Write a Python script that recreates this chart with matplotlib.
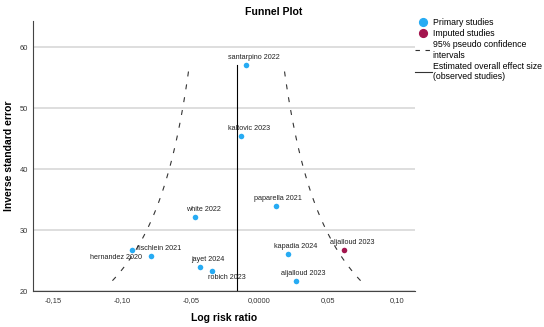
import numpy as np
import matplotlib.pyplot as plt
from matplotlib.lines import Line2D

plt.rcParams['font.family'] = ['Liberation Sans', 'DejaVu Sans']

# primary studies
studies = ['santarpino 2022', 'kaltovic 2023', 'paparella 2021', 'white 2022',
           'fischlein 2021', 'hernandez 2020', 'jayet 2024', 'robich 2023',
           'kapadia 2024', 'aljalloud 2023']
log_rr = [-0.0097, -0.0131, 0.0117, -0.0468, -0.0786, -0.0927, -0.0432, -0.0347,
          0.0207, 0.0267]
inv_se = [57.2, 45.5, 34.0, 32.2, 25.8, 26.7, 23.9, 23.3, 26.1, 21.7]

# imputed studies (trim and fill)
imp_studies = ['aljalloud 2023']
imp_log_rr = [0.0614]
imp_inv_se = [26.7]

overall = -0.0167

# label offsets in pixels (dx, dy) relative to point
offsets = {
    'santarpino 2022': (7.5, 7.3), 'kaltovic 2023': (7.4, 7.6),
    'paparella 2021': (2.4, 7.4), 'white 2022': (7.8, 7.4),
    'fischlein 2021': (7.2, 7.7), 'hernandez 2020': (-16.5, -7),
    'jayet 2024': (7.7, 8), 'robich 2023': (15.1, -7),
    'kapadia 2024': (7.5, 7.3), 'aljalloud 2023': (7.5, 7.4),
}
px = 0.72

blue = '#27ABF3'
red = '#A3154E'

fig = plt.figure(figsize=(5.44, 3.27), dpi=100)
ax = fig.add_axes([0.0613, 0.11, 0.7017, 0.8267])

ax.set_xlim(-0.1646, 0.1133)
ax.set_ylim(20, 64.4)
ax.set_yticks([20, 30, 40, 50, 60])
ax.set_xticks([-0.15, -0.10, -0.05, 0.0, 0.05, 0.10])
ax.set_xticklabels(['-0,15', '-0,10', '-0,05', '0,0000', '0,05', '0,10'])
ax.yaxis.grid(True, color='#D4D4D4', lw=1.1)
ax.set_axisbelow(True)
for s in ['top', 'right']:
    ax.spines[s].set_visible(False)
for s in ['left', 'bottom']:
    ax.spines[s].set_color('#444444')
    ax.spines[s].set_linewidth(0.8)
ax.tick_params(length=0, labelsize=5.4, colors='#333333', pad=4)

# pseudo confidence limits
prec = np.linspace(min(inv_se), max(inv_se), 100)
ax.plot(overall - 1.96 / prec, prec, color='#333333', lw=0.8, ls=(0, (4.5, 7.2)))
ax.plot(overall + 1.96 / prec, prec, color='#333333', lw=0.8, ls=(0, (4.5, 7.2)))
ax.plot([overall, overall], [20, max(inv_se)], color='black', lw=0.8)

ax.scatter(log_rr, inv_se, s=16, color=blue, zorder=3, linewidths=0)
ax.scatter(imp_log_rr, imp_inv_se, s=16, color=red, zorder=3, linewidths=0)

for name, x, y in zip(studies, log_rr, inv_se):
    dx, dy = offsets[name]
    ax.annotate(name, (x, y), xytext=(dx * px, dy * px), textcoords='offset points',
                ha='center', va='center', fontsize=5.2, color='#222222')
for name, x, y in zip(imp_studies, imp_log_rr, imp_inv_se):
    ax.annotate(name, (x, y), xytext=(8 * px, 7.7 * px), textcoords='offset points',
                ha='center', va='center', fontsize=5.2, color='#222222')

fig.text(0.412, 0.028, 'Log risk ratio', ha='center', va='center', fontsize=7.5,
         fontweight='bold')
fig.text(0.016, 0.523, 'Inverse standard error', ha='center', va='center',
         rotation=90, fontsize=7.5, fontweight='bold')
fig.text(0.503, 0.964, 'Funnel Plot', ha='center', va='center', fontsize=7.6,
         fontweight='bold')

handles = [
    Line2D([], [], marker='o', ls='none', color=blue, markersize=5.6),
    Line2D([], [], marker='o', ls='none', color=red, markersize=5.6),
    Line2D([], [], color='#333333', lw=0.8, ls=(0, (4, 5))),
    Line2D([], [], color='#333333', lw=0.8),
]
labels = ['Primary studies', 'Imputed studies', '95% pseudo confidence\nintervals',
          'Estimated overall effect size\n(observed studies)']
fig.legend(handles, labels, loc='upper left', bbox_to_anchor=(0.762, 0.945),
           frameon=False, fontsize=6.3, handlelength=1.94, handletextpad=0.15,
           labelspacing=0.25, borderpad=0, borderaxespad=0)

fig.savefig('out.png', dpi=100)
